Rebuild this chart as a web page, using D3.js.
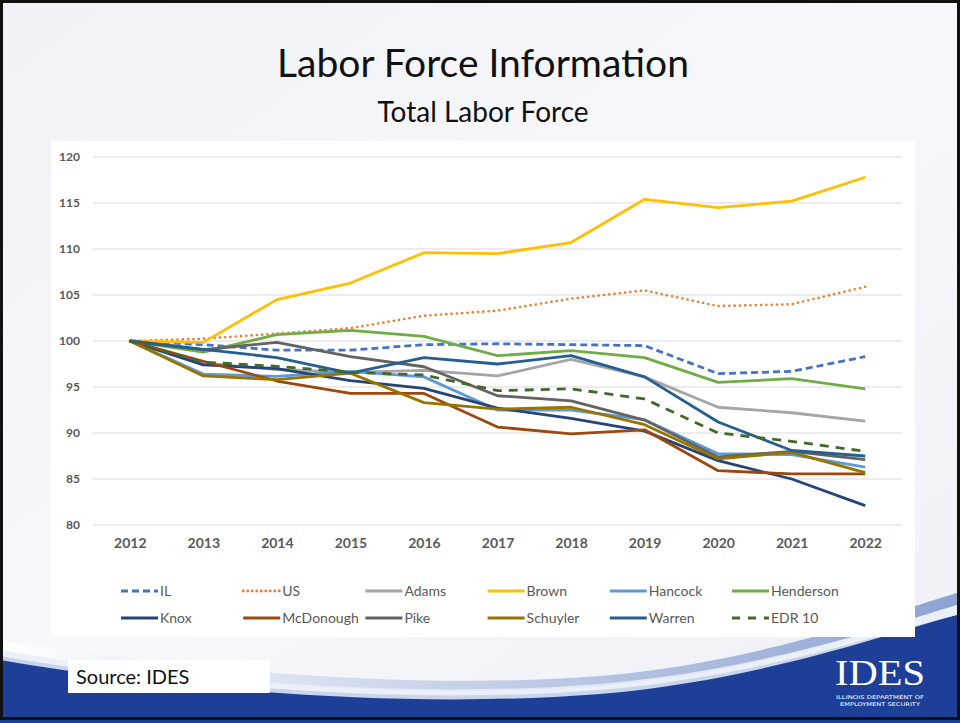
<!DOCTYPE html>
<html>
<head>
<meta charset="utf-8">
<script src="https://cdn.jsdelivr.net/npm/d3@7"></script>
<style>
  body { margin: 0; padding: 0; background: #fff; }
  svg { display: block; }
</style>
</head>
<body>
<div id="slide"></div>
<script>
// years on the x axis
let years = ["2012", "2013", "2014", "2015", "2016", "2017", "2018", "2019", "2020", "2021", "2022"];
let yTicks = [80, 85, 90, 95, 100, 105, 110, 115, 120];

// index values (2012 = 100)
let IL        = [100, 99.6, 99.0, 99.0, 99.6, 99.7, 99.6, 99.5, 96.45, 96.7, 98.3];
let US        = [100, 100.25, 100.8, 101.4, 102.75, 103.3, 104.6, 105.5, 103.8, 104.0, 105.9];
let Adams     = [100, 97.6, 96.9, 96.6, 96.8, 96.2, 98.0, 96.1, 92.8, 92.2, 91.3];
let Brown     = [100, 99.85, 104.5, 106.3, 109.6, 109.5, 110.7, 115.4, 114.5, 115.2, 117.8];
let Hancock   = [100, 96.4, 96.15, 96.7, 96.1, 92.5, 92.5, 91.45, 87.75, 87.65, 86.3];
let Henderson = [100, 98.8, 100.7, 101.15, 100.5, 98.4, 98.95, 98.2, 95.5, 95.9, 94.8];
let Knox      = [100, 97.4, 97.0, 95.7, 94.85, 92.7, 91.6, 90.2, 87.0, 85.0, 82.1];
let McDonough = [100, 97.8, 95.65, 94.3, 94.3, 90.65, 89.9, 90.35, 85.9, 85.55, 85.55];
let Pike      = [100, 99.05, 99.85, 98.3, 97.2, 94.05, 93.5, 91.4, 87.4, 88.0, 87.1];
let Schuyler  = [100, 96.2, 95.8, 96.5, 93.3, 92.6, 92.8, 90.9, 87.2, 87.9, 85.7];
let Warren    = [100, 99.1, 98.2, 96.5, 98.2, 97.5, 98.4, 96.1, 91.2, 88.1, 87.5];
let EDR10     = [100, 97.7, 97.25, 96.6, 96.3, 94.6, 94.8, 93.7, 90.0, 89.1, 88.0];

let seriesNames = ["IL", "US", "Adams", "Brown", "Hancock", "Henderson",
                   "Knox", "McDonough", "Pike", "Schuyler", "Warren", "EDR 10"];
let seriesValues = [IL, US, Adams, Brown, Hancock, Henderson,
                    Knox, McDonough, Pike, Schuyler, Warren, EDR10];
let seriesColors = ["#4472C4", "#ED7D31", "#A5A5A5", "#FFC000", "#5B9BD5", "#70AD47",
                    "#264478", "#9E480E", "#636363", "#997300", "#255E91", "#43682B"];
let seriesDash = ["7,4", "0.1,5.2", null, null, null, null,
                  null, null, null, null, null, "9,7"];

function mainChart() {
    let W = 960, H = 723;
    let fontMain = "Lato, 'Open Sans', sans-serif";

    let svg = d3.select("#slide").append("svg")
        .attr("width", W)
        .attr("height", H);

    // slide background
    let defs = svg.append("defs");
    let bg = defs.append("linearGradient").attr("id", "bgGrad")
        .attr("x1", 0).attr("y1", 0).attr("x2", 1).attr("y2", 1);
    bg.append("stop").attr("offset", "0%").attr("stop-color", "#f1f2f6");
    bg.append("stop").attr("offset", "50%").attr("stop-color", "#f7f8fb");
    bg.append("stop").attr("offset", "100%").attr("stop-color", "#eef0f6");

    let swoosh = defs.append("linearGradient").attr("id", "swGrad")
        .attr("x1", 0).attr("y1", 0).attr("x2", 1).attr("y2", 0);
    swoosh.append("stop").attr("offset", "0%").attr("stop-color", "#ffffff");
    swoosh.append("stop").attr("offset", "45%").attr("stop-color", "#c9d3ea");
    swoosh.append("stop").attr("offset", "100%").attr("stop-color", "#8ea3d3");

    svg.append("rect")
        .attr("x", 0).attr("y", 0).attr("width", W).attr("height", H)
        .attr("fill", "url(#bgGrad)");

    // bottom blue swoosh
    svg.append("path")
        .attr("d", "M0,640 C200,672 420,690 600,676 C760,662 880,616 960,592 L960,604 C880,628 760,672 600,686 C420,700 200,684 0,652 Z")
        .attr("fill", "url(#swGrad)");
    svg.append("path")
        .attr("d", "M0,656 C200,690 420,704 600,690 C760,676 880,634 960,614 L960,723 L0,723 Z")
        .attr("fill", "#1d3f98");
    svg.append("path")
        .attr("d", "M0,650 C200,684 420,698 600,684 C760,670 880,628 960,606 L960,614 C880,636 760,680 600,694 C420,708 200,694 0,660 Z")
        .attr("fill", "#e9eef8")
        .attr("opacity", 0.85);

    // frame
    svg.append("rect")
        .attr("x", 1.5).attr("y", 1.5).attr("width", W - 3).attr("height", H - 6)
        .attr("fill", "none")
        .attr("stroke", "#111")
        .attr("stroke-width", 3);

    // titles
    svg.append("text")
        .attr("x", 483).attr("y", 77)
        .attr("text-anchor", "middle")
        .style("font", "39px " + fontMain)
        .style("fill", "#111")
        .text("Labor Force Information");

    svg.append("text")
        .attr("x", 483).attr("y", 122)
        .attr("text-anchor", "middle")
        .style("font", "28px " + fontMain)
        .style("fill", "#111")
        .text("Total Labor Force");

    // chart panel
    svg.append("rect")
        .attr("x", 51).attr("y", 141).attr("width", 864).attr("height", 496)
        .attr("fill", "#ffffff");

    let x = d3.scalePoint().domain(years).range([93, 902]).padding(0.5);
    let y = d3.scaleLinear().domain([80, 120]).range([525, 157]);

    // gridlines
    svg.append("g")
        .selectAll("line")
        .data(yTicks)
        .enter().append("line")
        .attr("x1", 93).attr("x2", 902)
        .attr("y1", d => y(d)).attr("y2", d => y(d))
        .attr("stroke", "#d9d9d9")
        .attr("stroke-width", 1);

    // y axis labels
    let yAxis = d3.axisLeft(y).tickValues(yTicks).tickSize(0).tickPadding(0);
    let gy = svg.append("g")
        .attr("transform", "translate(80,0)")
        .call(yAxis);
    gy.select(".domain").remove();
    gy.selectAll("text")
        .style("font", "bold 12px " + fontMain)
        .style("fill", "#595959");

    // x axis labels
    let xAxis = d3.axisBottom(x).tickSize(0).tickPadding(0);
    let gx = svg.append("g")
        .attr("transform", "translate(0,538)")
        .call(xAxis);
    gx.select(".domain").remove();
    gx.selectAll("text")
        .style("font", "bold 14px " + fontMain)
        .style("fill", "#595959");

    // lines
    let line = d3.line()
        .x((d, i) => x(years[i]))
        .y(d => y(d));

    svg.append("g")
        .selectAll("path")
        .data(seriesValues)
        .enter().append("path")
        .attr("d", d => line(d))
        .attr("fill", "none")
        .attr("stroke", (d, i) => seriesColors[i])
        .attr("stroke-width", (d, i) => i == 1 ? 2.6 : 2.8)
        .attr("stroke-dasharray", (d, i) => seriesDash[i])
        .attr("stroke-linecap", (d, i) => i == 1 ? "round" : "butt")
        .attr("stroke-linejoin", "round");

    // legend
    let legend = svg.selectAll("g.legend")
        .data(seriesNames)
        .enter().append("g")
        .attr("class", "legend")
        .attr("transform", (d, i) => "translate(" + (121 + (i % 6) * 122.2) + "," + (591 + Math.floor(i / 6) * 27) + ")");

    legend.append("line")
        .attr("x1", 0).attr("x2", 37)
        .attr("y1", 0).attr("y2", 0)
        .attr("stroke", (d, i) => seriesColors[i])
        .attr("stroke-width", 2.8)
        .attr("stroke-dasharray", (d, i) => i == 0 ? "7,4" : i == 1 ? "0.1,4.4" : i == 11 ? "8,8" : null)
        .attr("stroke-linecap", (d, i) => i == 1 ? "round" : "butt");

    legend.append("text")
        .attr("x", 39).attr("y", 5)
        .style("font", "14px " + fontMain)
        .style("fill", "#595959")
        .text(d => d);

    // source box
    svg.append("rect")
        .attr("x", 68).attr("y", 660).attr("width", 202).attr("height", 33)
        .attr("fill", "#ffffff");
    svg.append("text")
        .attr("x", 76).attr("y", 684)
        .style("font", "20px " + fontMain)
        .style("fill", "#111")
        .text("Source: IDES");

    // IDES logo text
    svg.append("text")
        .attr("x", 880).attr("y", 685)
        .attr("text-anchor", "middle")
        .attr("textLength", 90)
        .attr("lengthAdjust", "spacingAndGlyphs")
        .style("font", "36px 'Liberation Serif', serif")
        .style("fill", "#ffffff")
        .text("IDES");
    svg.append("text")
        .attr("x", 880).attr("y", 699)
        .attr("text-anchor", "middle")
        .attr("textLength", 88)
        .attr("lengthAdjust", "spacingAndGlyphs")
        .style("font", "5px 'DejaVu Sans', sans-serif")
        .style("fill", "#ffffff")
        .text("ILLINOIS DEPARTMENT OF");
    svg.append("text")
        .attr("x", 880).attr("y", 706)
        .attr("text-anchor", "middle")
        .attr("textLength", 80)
        .attr("lengthAdjust", "spacingAndGlyphs")
        .style("font", "5px 'DejaVu Sans', sans-serif")
        .style("fill", "#ffffff")
        .text("EMPLOYMENT SECURITY");
}

mainChart();
</script>
</body>
</html>
